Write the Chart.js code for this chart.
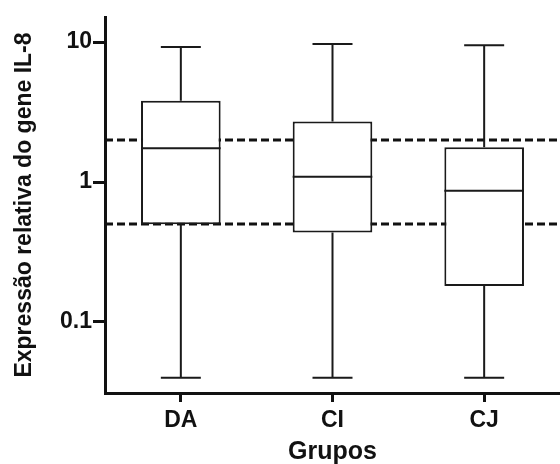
<!DOCTYPE html>
<html>
<head>
<meta charset="utf-8">
<script src="https://cdn.jsdelivr.net/npm/chart.js@4/dist/chart.umd.min.js"></script>
<style>
  html, body { margin: 0; padding: 0; background: #fff; }
  #wrap { width: 560px; height: 464px; }
</style>
</head>
<body>
<div id="wrap"><canvas id="chart" width="560" height="464"></canvas></div>
<script>
/*
 * Box plot of relative IL-8 gene expression per group
 */

const grupos = ['DA', 'CI', 'CJ']
const minimo = [0.04, 0.04, 0.04]
const quartil1 = [0.50, 0.435, 0.181]
const mediana = [1.74, 1.09, 0.867]
const quartil3 = [3.81, 2.70, 1.77]
const maximo = [9.21, 9.68, 9.5]
const linhasRef = [0.5, 2]
const yTicks = [0.1, 1, 10]

const fonte = "'Liberation Sans', Arial, sans-serif"
const preto = '#111'

// dashed reference lines, drawn under the boxes
const refLinesPlugin = {
    id: 'refLines',
    beforeDatasetsDraw(chart) {
        const ctx = chart.ctx
        const y = chart.scales.y
        const area = chart.chartArea
        ctx.save()
        ctx.strokeStyle = preto
        ctx.lineWidth = 3
        ctx.setLineDash([8, 4])
        linhasRef.forEach(v => {
            const py = Math.round(y.getPixelForValue(v))
            ctx.beginPath()
            ctx.moveTo(area.left, py)
            ctx.lineTo(area.right, py)
            ctx.stroke()
        })
        ctx.restore()
    }
}

// whiskers and median on top of the boxes
const whiskerPlugin = {
    id: 'whiskers',
    afterDatasetsDraw(chart) {
        const ctx = chart.ctx
        const x = chart.scales.x
        const y = chart.scales.y
        const meta = chart.getDatasetMeta(0)
        ctx.save()
        ctx.strokeStyle = '#1a1a1a'
        ctx.lineWidth = 2
        grupos.forEach((g, i) => {
            const cx = x.getPixelForValue(i)
            const half = meta.data[i].width / 2
            const cap = 20
            const yMin = y.getPixelForValue(minimo[i])
            const yMax = y.getPixelForValue(maximo[i])
            const yQ1 = y.getPixelForValue(quartil1[i])
            const yQ3 = y.getPixelForValue(quartil3[i])
            const yMed = y.getPixelForValue(mediana[i])
            ctx.beginPath()
            ctx.moveTo(cx, yQ3); ctx.lineTo(cx, yMax)
            ctx.moveTo(cx - cap, yMax); ctx.lineTo(cx + cap, yMax)
            ctx.moveTo(cx, yQ1); ctx.lineTo(cx, yMin)
            ctx.moveTo(cx - cap, yMin); ctx.lineTo(cx + cap, yMin)
            ctx.moveTo(cx - half, yMed); ctx.lineTo(cx + half, yMed)
            ctx.stroke()
        })
        ctx.restore()
    }
}

let boxConfig = {
    type: 'bar',
    data: {
        labels: grupos,
        datasets: [{
            data: grupos.map((g, i) => [quartil1[i], quartil3[i]]),
            backgroundColor: '#fff',
            borderColor: '#1a1a1a',
            borderWidth: 2,
            borderSkipped: false,
            categoryPercentage: 1,
            barPercentage: 0.525
        }]
    },
    options: {
        responsive: false,
        animation: false,
        layout: { padding: { top: 17, right: 0, bottom: 0, left: 0 } },
        plugins: { legend: { display: false }, tooltip: { enabled: false } },
        scales: {
            x: {
                offset: true,
                grid: { offset: false, drawOnChartArea: false, tickLength: 9, tickWidth: 3, tickColor: preto },
                border: { display: true, width: 3, color: preto },
                ticks: { color: preto, padding: 5, font: { family: fonte, size: 23, weight: 'bold' } },
                title: {
                    display: true, text: 'Grupos', color: preto,
                    font: { family: fonte, size: 25, weight: 'bold', lineHeight: 1 },
                    padding: { top: 0, bottom: -1 }
                },
                afterFit(scale) { scale.height = 71 }
            },
            y: {
                type: 'logarithmic',
                min: 0.0311,
                max: 15.09,
                grid: { drawOnChartArea: false, tickLength: 12, tickWidth: 3, tickColor: preto },
                border: { display: true, width: 3, color: preto },
                ticks: {
                    color: preto, padding: 1,
                    font: { family: fonte, size: 23, weight: 'bold' },
                    callback: v => String(v)
                },
                afterBuildTicks(scale) { scale.ticks = yTicks.map(v => ({ value: v })) },
                title: {
                    display: true, text: 'Expressão relativa do gene IL-8', color: preto,
                    font: { family: fonte, size: 23, weight: 'bold', lineHeight: 1.2 },
                    padding: { top: 11, bottom: 0 }
                },
                afterFit(scale) { scale.width = 105 }
            }
        }
    },
    plugins: [refLinesPlugin, whiskerPlugin]
}

var boxCanvas = document.getElementById('chart')

var boxChart = new Chart(boxCanvas, boxConfig)
</script>
</body>
</html>
